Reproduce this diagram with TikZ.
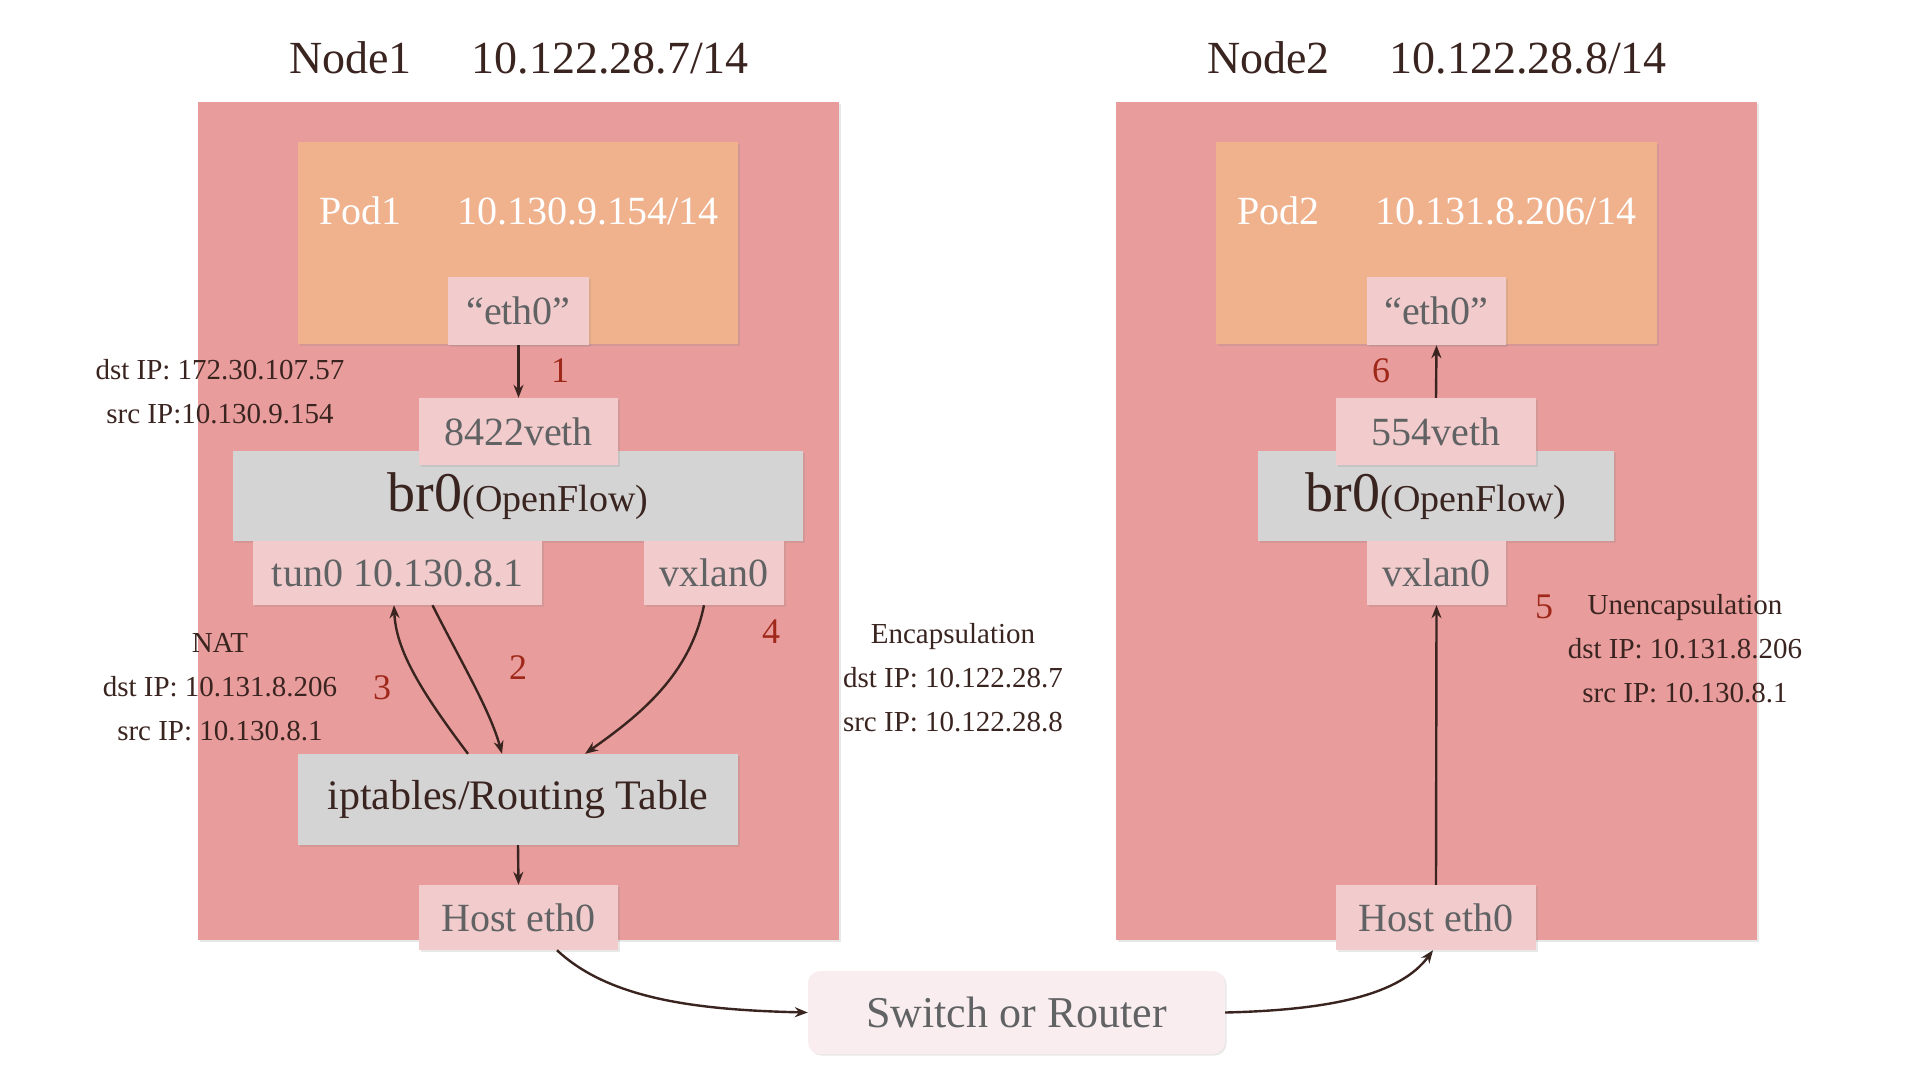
\documentclass[tikz,border=0pt]{standalone}
\usepackage{fontspec}
\setmainfont{Liberation Serif}
\usetikzlibrary{arrows.meta,shadows}
\definecolor{hostbg}{RGB}{232,157,156}
\definecolor{podbg}{RGB}{240,177,141}
\definecolor{ifbg}{RGB}{242,203,204}
\definecolor{brbg}{RGB}{212,212,212}
\definecolor{swbg}{RGB}{249,237,240}
\definecolor{ink}{RGB}{58,36,32}
\definecolor{iftext}{RGB}{96,98,100}
\definecolor{numred}{RGB}{160,40,26}
\begin{document}
\begin{tikzpicture}[x=1pt,y=-1pt,
  shad/.style={drop shadow={opacity=0.18,shadow xshift=1.5pt,shadow yshift=-1.5pt}},
  hostbox/.style={fill=hostbg,draw=none,inner sep=0pt,shad},
  podbox/.style={fill=podbg,draw=none,inner sep=0pt,shad},
  ifbox/.style={fill=ifbg,draw=none,inner sep=0pt,text=iftext,font=\fontsize{40}{44}\selectfont,shad},
  brbox/.style={fill=brbg,draw=none,inner sep=0pt,text=ink,shad},
  swbox/.style={fill=swbg,draw=none,rounded corners=12pt,inner sep=0pt,text=iftext,font=\fontsize{44}{48}\selectfont,shad},
  title/.style={text=ink,font=\fontsize{46}{50}\selectfont},
  podtext/.style={text=white,font=\fontsize{40}{44}\selectfont},
  note/.style={text=ink,font=\fontsize{29}{44}\selectfont,align=center},
  num/.style={text=numred,font=\fontsize{36}{40}\selectfont},
  arr/.style={draw=ink,line width=2.4pt,-{Stealth[length=13pt,width=10pt]}}
]
\useasboundingbox (0,0) rectangle (1920,1080);
% hosts
\node[hostbox,minimum width=641pt,minimum height=838pt] (node1) at (518.5,521) {};
\node[hostbox,minimum width=641pt,minimum height=838pt] (node2) at (1436.5,521) {};
\node[title] (node1t) at (519,58) {Node1\hspace{1.3em}10.122.28.7/14};
\node[title] (node2t) at (1437,58) {Node2\hspace{1.3em}10.122.28.8/14};
% pods
\node[podbox,minimum width=440pt,minimum height=202pt] (pod1) at (518,243) {};
\node[podtext] (pod1t) at (519,211) {Pod1\hspace{1.4em}10.130.9.154/14};
\node[podbox,minimum width=441pt,minimum height=202pt] (pod2) at (1436.5,243) {};
\node[podtext] (pod2t) at (1437,211) {Pod2\hspace{1.4em}10.131.8.206/14};
% node1 internals
\node[brbox,minimum width=570pt,minimum height=90pt] (br0L) at (518,496) {\fontsize{56}{60}\selectfont br0\fontsize{38}{40}\selectfont(OpenFlow)};
\node[ifbox,minimum width=141pt,minimum height=68pt] (eth0L) at (518.5,311) {“eth0”};
\node[ifbox,minimum width=199pt,minimum height=67pt] (veth8422) at (518.5,431.5) {8422veth};
\node[ifbox,minimum width=289pt,minimum height=64pt] (tun0) at (397.5,573) {tun0 10.130.8.1};
\node[ifbox,minimum width=140pt,minimum height=64pt] (vxlanL) at (714,573) {vxlan0};
\node[brbox,minimum width=440pt,minimum height=91pt,font=\fontsize{42}{46}\selectfont] (iptables) at (518,799.5) {iptables/Routing Table};
\node[ifbox,minimum width=199pt,minimum height=65pt] (hostL) at (518.5,917.5) {Host eth0};
% node2 internals
\node[brbox,minimum width=356pt,minimum height=90pt] (br0R) at (1436,496) {\fontsize{56}{60}\selectfont br0\fontsize{38}{40}\selectfont(OpenFlow)};
\node[ifbox,minimum width=139pt,minimum height=68pt] (eth0R) at (1436.5,311) {“eth0”};
\node[ifbox,minimum width=200pt,minimum height=67pt] (veth554) at (1436,431.5) {554veth};
\node[ifbox,minimum width=139pt,minimum height=64pt] (vxlanR) at (1436.5,573) {vxlan0};
\node[ifbox,minimum width=200pt,minimum height=65pt] (hostR) at (1436,917.5) {Host eth0};
% switch
\node[swbox,minimum width=417pt,minimum height=83pt] (switch) at (1016.5,1012.5) {Switch or Router};
% annotations
\node[note] (noteA) at (220,392) {dst IP: 172.30.107.57\\src IP:10.130.9.154};
\node[note] (noteB) at (220,687) {NAT\\dst IP: 10.131.8.206\\src IP: 10.130.8.1};
\node[note] (noteC) at (953,678) {Encapsulation\\dst IP: 10.122.28.7\\src IP: 10.122.28.8};
\node[note] (noteD) at (1685,649) {Unencapsulation\\dst IP: 10.131.8.206\\src IP: 10.130.8.1};
% numbers
\node[num] (n1) at (560,371) {1};
\node[num] (n2) at (518,668) {2};
\node[num] (n3) at (382,688) {3};
\node[num] (n4) at (771,632) {4};
\node[num] (n5) at (1544,607) {5};
\node[num] (n6) at (1381,371) {6};
% connectors
\draw[arr] (eth0L.south) -- (veth8422.north);
\draw[arr] ([xshift=-50pt]iptables.north) .. controls (420,690) and (396,650) .. ([xshift=-3.5pt]tun0.south);
\draw[arr] ([xshift=35pt]tun0.south) .. controls (460,660) and (490,710) .. ([xshift=-16pt]iptables.north);
\draw[arr] ([xshift=-10pt]vxlanL.south) .. controls (690,675) and (640,715) .. ([xshift=67pt]iptables.north);
\draw[arr] (iptables.south) -- (hostL.north);
\draw[arr] ([xshift=38.5pt]hostL.south) .. controls (610,1000) and (700,1010) .. (switch.west);
\draw[arr] (switch.east) .. controls (1330,1010) and (1400,995) .. ([xshift=-3pt]hostR.south);
\draw[arr] (hostR.north) -- (vxlanR.south);
\draw[arr] (veth554.north) -- (eth0R.south);
\end{tikzpicture}
\end{document}
